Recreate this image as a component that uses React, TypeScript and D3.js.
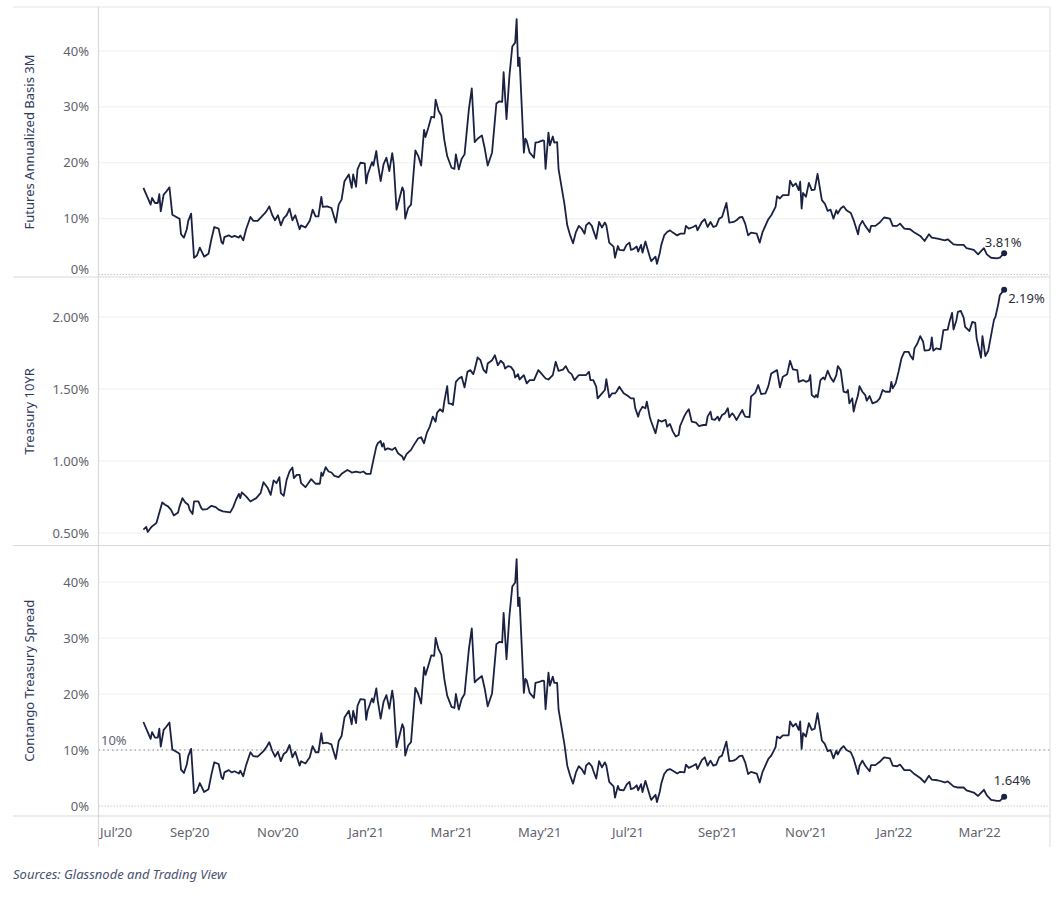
import React from "react";
import * as d3 from "d3";

// ---------- DATA ----------
const basis: [string, number][] = [
["2020-07-31",15.5],["2020-08-03",13.7],["2020-08-05",12.5],["2020-08-06",13.7],["2020-08-08",12.8],["2020-08-10",12.8],["2020-08-11",14.4],["2020-08-12",11.3],["2020-08-14",14.3],["2020-08-16",14.9],["2020-08-18",15.6],["2020-08-20",10.7],["2020-08-24",10.1],["2020-08-25",10.0],["2020-08-26",7.2],["2020-08-28",6.6],["2020-08-30",8.1],["2020-08-31",9.6],["2020-09-02",10.9],["2020-09-04",3.0],["2020-09-06",3.4],["2020-09-08",4.8],["2020-09-11",3.2],["2020-09-14",3.7],["2020-09-16",6.3],["2020-09-18",8.5],["2020-09-21",8.2],["2020-09-23",5.8],["2020-09-24",5.5],["2020-09-25",6.7],["2020-09-28",7.0],["2020-09-30",6.7],["2020-10-02",6.9],["2020-10-05",6.6],["2020-10-06",7.0],["2020-10-08",6.1],["2020-10-10",8.1],["2020-10-13",10.3],["2020-10-15",9.6],["2020-10-18",9.6],["2020-10-22",10.7],["2020-10-24",11.3],["2020-10-26",12.2],["2020-10-28",10.7],["2020-10-30",9.7],["2020-11-01",10.6],["2020-11-03",8.8],["2020-11-05",10.1],["2020-11-07",10.6],["2020-11-09",11.8],["2020-11-11",9.7],["2020-11-13",10.6],["2020-11-16",8.1],["2020-11-17",8.8],["2020-11-20",8.4],["2020-11-23",9.6],["2020-11-25",11.6],["2020-11-27",10.4],["2020-11-29",10.4],["2020-12-01",13.9],["2020-12-02",12.1],["2020-12-05",12.2],["2020-12-08",11.9],["2020-12-11",9.3],["2020-12-13",12.5],["2020-12-15",13.4],["2020-12-17",16.7],["2020-12-20",17.9],["2020-12-22",15.5],["2020-12-23",17.9],["2020-12-25",15.7],["2020-12-26",18.8],["2020-12-28",20.0],["2020-12-31",19.9],["2021-01-01",16.3],["2021-01-02",17.9],["2021-01-05",20.1],["2021-01-06",19.5],["2021-01-08",22.1],["2021-01-09",19.9],["2021-01-11",16.7],["2021-01-13",19.7],["2021-01-15",20.9],["2021-01-17",18.5],["2021-01-19",21.7],["2021-01-20",19.9],["2021-01-22",11.6],["2021-01-26",15.6],["2021-01-27",14.9],["2021-01-28",10.0],["2021-01-30",11.9],["2021-02-01",12.5],["2021-02-04",22.2],["2021-02-06",21.2],["2021-02-08",19.5],["2021-02-10",25.9],["2021-02-11",24.6],["2021-02-13",26.3],["2021-02-15",28.2],["2021-02-17",28.1],["2021-02-18",31.3],["2021-02-20",29.3],["2021-02-22",28.4],["2021-02-24",24.1],["2021-02-26",21.2],["2021-03-01",19.1],["2021-03-03",18.9],["2021-03-04",21.5],["2021-03-06",18.8],["2021-03-08",20.7],["2021-03-10",21.5],["2021-03-13",29.6],["2021-03-15",33.3],["2021-03-17",23.7],["2021-03-19",24.3],["2021-03-22",24.9],["2021-03-24",22.5],["2021-03-26",19.5],["2021-03-29",21.8],["2021-04-01",30.6],["2021-04-03",31.0],["2021-04-05",30.9],["2021-04-06",36.2],["2021-04-08",27.8],["2021-04-10",35.5],["2021-04-12",40.8],["2021-04-14",41.5],["2021-04-15",45.7],["2021-04-16",37.3],["2021-04-17",38.8],["2021-04-20",21.8],["2021-04-21",24.3],["2021-04-22",23.9],["2021-04-24",21.8],["2021-04-27",20.9],["2021-04-28",23.6],["2021-04-30",23.7],["2021-05-03",24.0],["2021-05-04",23.9],["2021-05-05",18.9],["2021-05-07",25.4],["2021-05-08",23.1],["2021-05-10",24.7],["2021-05-11",23.6],["2021-05-13",23.7],["2021-05-14",18.8],["2021-05-18",12.7],["2021-05-20",8.8],["2021-05-22",7.0],["2021-05-24",5.6],["2021-05-26",7.6],["2021-05-28",8.7],["2021-05-30",8.2],["2021-06-01",7.3],["2021-06-02",8.8],["2021-06-04",9.3],["2021-06-06",8.7],["2021-06-07",7.9],["2021-06-09",6.4],["2021-06-11",9.4],["2021-06-13",8.4],["2021-06-15",9.3],["2021-06-16",8.8],["2021-06-18",5.7],["2021-06-21",5.0],["2021-06-22",3.0],["2021-06-24",5.1],["2021-06-25",4.4],["2021-06-28",4.3],["2021-06-30",5.3],["2021-07-02",5.7],["2021-07-03",4.4],["2021-07-05",4.6],["2021-07-07",5.0],["2021-07-08",4.1],["2021-07-10",5.3],["2021-07-11",3.9],["2021-07-13",5.9],["2021-07-16",3.2],["2021-07-17",2.4],["2021-07-20",3.2],["2021-07-21",1.9],["2021-07-23",3.9],["2021-07-24",5.3],["2021-07-26",7.0],["2021-07-28",7.6],["2021-07-30",7.9],["2021-08-01",7.5],["2021-08-04",7.0],["2021-08-06",7.3],["2021-08-09",7.3],["2021-08-10",8.7],["2021-08-12",8.2],["2021-08-15",8.5],["2021-08-17",8.8],["2021-08-18",7.9],["2021-08-21",9.4],["2021-08-23",9.9],["2021-08-25",8.5],["2021-08-27",9.4],["2021-08-29",8.5],["2021-08-31",8.7],["2021-09-02",10.0],["2021-09-04",10.3],["2021-09-07",12.8],["2021-09-09",9.3],["2021-09-12",9.4],["2021-09-14",9.7],["2021-09-16",10.2],["2021-09-18",10.3],["2021-09-20",9.1],["2021-09-22",7.0],["2021-09-24",7.5],["2021-09-28",7.3],["2021-09-30",5.7],["2021-10-02",7.6],["2021-10-06",9.9],["2021-10-08",10.6],["2021-10-11",12.1],["2021-10-12",14.0],["2021-10-14",13.6],["2021-10-16",14.2],["2021-10-20",14.2],["2021-10-21",16.8],["2021-10-23",15.8],["2021-10-25",16.3],["2021-10-27",15.1],["2021-10-28",16.6],["2021-10-29",11.8],["2021-10-30",14.6],["2021-11-01",13.9],["2021-11-03",16.4],["2021-11-05",15.1],["2021-11-07",15.2],["2021-11-09",18.0],["2021-11-12",13.3],["2021-11-14",12.7],["2021-11-16",11.4],["2021-11-18",11.6],["2021-11-20",10.0],["2021-11-22",11.5],["2021-11-23",10.9],["2021-11-25",11.8],["2021-11-27",12.2],["2021-11-29",11.5],["2021-12-02",11.0],["2021-12-04",9.7],["2021-12-07",7.2],["2021-12-08",8.7],["2021-12-10",9.6],["2021-12-12",8.7],["2021-12-15",7.6],["2021-12-16",8.7],["2021-12-19",8.7],["2021-12-22",9.3],["2021-12-25",10.2],["2021-12-29",10.0],["2021-12-31",8.7],["2022-01-03",8.7],["2022-01-05",9.1],["2022-01-08",8.2],["2022-01-12",8.1],["2022-01-15",7.5],["2022-01-19",6.9],["2022-01-22",6.0],["2022-01-25",7.2],["2022-01-27",6.6],["2022-01-31",6.4],["2022-02-05",6.1],["2022-02-07",6.3],["2022-02-11",5.4],["2022-02-14",5.3],["2022-02-18",5.3],["2022-02-20",4.7],["2022-02-25",4.4],["2022-02-28",3.6],["2022-03-04",4.7],["2022-03-06",3.6],["2022-03-09",3.0],["2022-03-13",2.9],["2022-03-15",3.0],["2022-03-18",3.81]
];

const treasury: [string, number][] = [
["2020-07-31",0.523],["2020-08-02",0.542],["2020-08-03",0.507],["2020-08-05",0.535],["2020-08-06",0.546],["2020-08-09",0.569],["2020-08-13",0.712],["2020-08-15",0.696],["2020-08-17",0.685],["2020-08-19",0.662],["2020-08-21",0.622],["2020-08-24",0.643],["2020-08-25",0.685],["2020-08-27",0.742],["2020-08-29",0.712],["2020-08-31",0.696],["2020-09-01",0.662],["2020-09-03",0.632],["2020-09-04",0.719],["2020-09-07",0.719],["2020-09-09",0.673],["2020-09-10",0.662],["2020-09-13",0.666],["2020-09-16",0.689],["2020-09-19",0.680],["2020-09-21",0.662],["2020-09-24",0.650],["2020-09-29",0.643],["2020-10-01",0.678],["2020-10-03",0.731],["2020-10-05",0.772],["2020-10-06",0.742],["2020-10-07",0.782],["2020-10-10",0.754],["2020-10-13",0.719],["2020-10-17",0.742],["2020-10-20",0.777],["2020-10-22",0.853],["2020-10-25",0.812],["2020-10-27",0.765],["2020-10-29",0.865],["2020-10-31",0.846],["2020-11-02",0.888],["2020-11-03",0.777],["2020-11-05",0.758],["2020-11-07",0.869],["2020-11-09",0.927],["2020-11-11",0.955],["2020-11-12",0.881],["2020-11-14",0.904],["2020-11-16",0.904],["2020-11-17",0.846],["2020-11-20",0.818],["2020-11-22",0.846],["2020-11-24",0.874],["2020-11-27",0.842],["2020-11-30",0.842],["2020-12-01",0.920],["2020-12-02",0.897],["2020-12-04",0.957],["2020-12-06",0.927],["2020-12-08",0.920],["2020-12-10",0.897],["2020-12-13",0.888],["2020-12-15",0.911],["2020-12-19",0.938],["2020-12-21",0.927],["2020-12-22",0.920],["2020-12-25",0.927],["2020-12-28",0.920],["2020-12-30",0.927],["2021-01-01",0.911],["2021-01-04",0.911],["2021-01-06",1.008],["2021-01-08",1.100],["2021-01-09",1.123],["2021-01-11",1.139],["2021-01-12",1.100],["2021-01-13",1.123],["2021-01-14",1.077],["2021-01-16",1.088],["2021-01-19",1.077],["2021-01-21",1.093],["2021-01-23",1.054],["2021-01-26",1.031],["2021-01-27",1.008],["2021-01-29",1.049],["2021-02-01",1.077],["2021-02-03",1.112],["2021-02-06",1.158],["2021-02-08",1.165],["2021-02-10",1.123],["2021-02-12",1.197],["2021-02-14",1.239],["2021-02-16",1.308],["2021-02-18",1.273],["2021-02-19",1.335],["2021-02-21",1.359],["2021-02-23",1.342],["2021-02-24",1.412],["2021-02-26",1.520],["2021-02-27",1.400],["2021-03-01",1.396],["2021-03-02",1.389],["2021-03-04",1.550],["2021-03-06",1.573],["2021-03-08",1.585],["2021-03-10",1.511],["2021-03-12",1.619],["2021-03-14",1.631],["2021-03-16",1.603],["2021-03-17",1.635],["2021-03-19",1.719],["2021-03-21",1.700],["2021-03-23",1.635],["2021-03-25",1.612],["2021-03-26",1.677],["2021-03-29",1.700],["2021-03-31",1.735],["2021-04-02",1.665],["2021-04-04",1.696],["2021-04-06",1.677],["2021-04-07",1.642],["2021-04-09",1.659],["2021-04-11",1.654],["2021-04-13",1.626],["2021-04-14",1.580],["2021-04-16",1.603],["2021-04-17",1.566],["2021-04-20",1.596],["2021-04-22",1.539],["2021-04-24",1.562],["2021-04-27",1.562],["2021-04-30",1.631],["2021-05-02",1.608],["2021-05-05",1.573],["2021-05-07",1.566],["2021-05-10",1.596],["2021-05-12",1.689],["2021-05-14",1.626],["2021-05-17",1.635],["2021-05-19",1.659],["2021-05-21",1.619],["2021-05-23",1.603],["2021-05-25",1.562],["2021-05-28",1.597],["2021-05-31",1.597],["2021-06-02",1.597],["2021-06-04",1.620],["2021-06-05",1.562],["2021-06-07",1.562],["2021-06-09",1.516],["2021-06-10",1.435],["2021-06-13",1.470],["2021-06-15",1.493],["2021-06-16",1.569],["2021-06-18",1.442],["2021-06-20",1.470],["2021-06-22",1.470],["2021-06-23",1.481],["2021-06-25",1.516],["2021-06-28",1.470],["2021-07-01",1.451],["2021-07-03",1.435],["2021-07-05",1.435],["2021-07-06",1.366],["2021-07-08",1.308],["2021-07-09",1.343],["2021-07-11",1.377],["2021-07-13",1.366],["2021-07-14",1.412],["2021-07-16",1.308],["2021-07-17",1.274],["2021-07-20",1.193],["2021-07-22",1.285],["2021-07-24",1.274],["2021-07-27",1.285],["2021-07-28",1.239],["2021-07-30",1.257],["2021-08-01",1.204],["2021-08-03",1.170],["2021-08-05",1.181],["2021-08-06",1.243],["2021-08-09",1.313],["2021-08-10",1.331],["2021-08-12",1.359],["2021-08-14",1.274],["2021-08-17",1.267],["2021-08-19",1.243],["2021-08-22",1.250],["2021-08-24",1.250],["2021-08-25",1.308],["2021-08-27",1.343],["2021-08-28",1.290],["2021-08-30",1.285],["2021-09-01",1.308],["2021-09-02",1.281],["2021-09-04",1.320],["2021-09-06",1.331],["2021-09-08",1.366],["2021-09-09",1.304],["2021-09-11",1.331],["2021-09-12",1.320],["2021-09-14",1.285],["2021-09-16",1.320],["2021-09-18",1.354],["2021-09-19",1.327],["2021-09-20",1.308],["2021-09-23",1.304],["2021-09-24",1.447],["2021-09-27",1.475],["2021-09-29",1.528],["2021-10-01",1.465],["2021-10-04",1.470],["2021-10-06",1.520],["2021-10-08",1.608],["2021-10-12",1.631],["2021-10-14",1.511],["2021-10-16",1.585],["2021-10-19",1.603],["2021-10-21",1.696],["2021-10-23",1.636],["2021-10-26",1.631],["2021-10-27",1.550],["2021-10-30",1.562],["2021-11-01",1.550],["2021-11-03",1.558],["2021-11-04",1.597],["2021-11-05",1.458],["2021-11-07",1.442],["2021-11-08",1.458],["2021-11-09",1.442],["2021-11-11",1.562],["2021-11-13",1.580],["2021-11-14",1.566],["2021-11-16",1.627],["2021-11-18",1.580],["2021-11-20",1.550],["2021-11-22",1.597],["2021-11-23",1.659],["2021-11-25",1.631],["2021-11-27",1.481],["2021-11-29",1.475],["2021-11-30",1.493],["2021-12-01",1.400],["2021-12-03",1.435],["2021-12-04",1.343],["2021-12-05",1.389],["2021-12-07",1.458],["2021-12-08",1.520],["2021-12-10",1.481],["2021-12-12",1.458],["2021-12-13",1.419],["2021-12-15",1.451],["2021-12-17",1.400],["2021-12-20",1.412],["2021-12-22",1.435],["2021-12-24",1.493],["2021-12-26",1.481],["2021-12-29",1.481],["2021-12-30",1.550],["2021-12-31",1.504],["2022-01-02",1.539],["2022-01-04",1.620],["2022-01-06",1.712],["2022-01-08",1.758],["2022-01-11",1.758],["2022-01-12",1.735],["2022-01-14",1.705],["2022-01-15",1.782],["2022-01-17",1.816],["2022-01-19",1.867],["2022-01-21",1.828],["2022-01-22",1.766],["2022-01-25",1.770],["2022-01-26",1.782],["2022-01-27",1.858],["2022-01-28",1.766],["2022-01-30",1.782],["2022-02-02",1.775],["2022-02-04",1.909],["2022-02-07",1.913],["2022-02-08",1.959],["2022-02-10",2.029],["2022-02-11",1.913],["2022-02-13",1.978],["2022-02-14",2.035],["2022-02-16",2.042],["2022-02-18",1.996],["2022-02-19",1.931],["2022-02-22",1.903],["2022-02-24",1.966],["2022-02-26",1.959],["2022-02-27",1.850],["2022-03-02",1.717],["2022-03-03",1.867],["2022-03-05",1.729],["2022-03-07",1.766],["2022-03-09",1.874],["2022-03-11",1.982],["2022-03-12",2.001],["2022-03-14",2.093],["2022-03-15",2.151],["2022-03-18",2.19]
];

const spread: [string, number][] = [
["2020-07-31",15.0],["2020-08-03",13.2],["2020-08-05",12.0],["2020-08-06",13.2],["2020-08-08",12.2],["2020-08-10",12.2],["2020-08-11",13.8],["2020-08-12",10.6],["2020-08-14",13.6],["2020-08-16",14.2],["2020-08-18",14.9],["2020-08-20",10.1],["2020-08-24",9.5],["2020-08-25",9.3],["2020-08-26",6.5],["2020-08-28",5.9],["2020-08-30",7.4],["2020-08-31",8.9],["2020-09-02",10.2],["2020-09-04",2.3],["2020-09-06",2.7],["2020-09-08",4.1],["2020-09-11",2.5],["2020-09-14",3.0],["2020-09-16",5.6],["2020-09-18",7.8],["2020-09-21",7.5],["2020-09-23",5.1],["2020-09-24",4.8],["2020-09-25",6.0],["2020-09-28",6.4],["2020-09-30",6.0],["2020-10-02",6.2],["2020-10-05",5.8],["2020-10-06",6.3],["2020-10-08",5.3],["2020-10-10",7.3],["2020-10-13",9.6],["2020-10-15",8.9],["2020-10-18",8.8],["2020-10-22",9.8],["2020-10-24",10.5],["2020-10-26",11.4],["2020-10-28",9.9],["2020-10-30",8.8],["2020-11-01",9.7],["2020-11-03",8.0],["2020-11-05",9.3],["2020-11-07",9.7],["2020-11-09",10.9],["2020-11-11",8.7],["2020-11-13",9.7],["2020-11-16",7.2],["2020-11-17",8.0],["2020-11-20",7.6],["2020-11-23",8.7],["2020-11-25",10.7],["2020-11-27",9.6],["2020-11-29",9.6],["2020-12-01",13.0],["2020-12-02",11.2],["2020-12-05",11.3],["2020-12-08",11.0],["2020-12-11",8.4],["2020-12-13",11.6],["2020-12-15",12.5],["2020-12-17",15.8],["2020-12-20",17.0],["2020-12-22",14.6],["2020-12-23",17.0],["2020-12-25",14.8],["2020-12-26",17.9],["2020-12-28",19.1],["2020-12-31",19.0],["2021-01-01",15.4],["2021-01-02",17.0],["2021-01-05",19.2],["2021-01-06",18.5],["2021-01-08",21.0],["2021-01-09",18.8],["2021-01-11",15.6],["2021-01-13",18.6],["2021-01-15",19.8],["2021-01-17",17.4],["2021-01-19",20.6],["2021-01-20",18.8],["2021-01-22",10.5],["2021-01-26",14.6],["2021-01-27",13.9],["2021-01-28",9.0],["2021-01-30",10.8],["2021-02-01",11.4],["2021-02-04",21.1],["2021-02-06",20.0],["2021-02-08",18.3],["2021-02-10",24.8],["2021-02-11",23.4],["2021-02-13",25.1],["2021-02-15",26.9],["2021-02-17",26.8],["2021-02-18",30.0],["2021-02-20",28.0],["2021-02-22",27.0],["2021-02-24",22.7],["2021-02-26",19.7],["2021-03-01",17.7],["2021-03-03",17.5],["2021-03-04",20.0],["2021-03-06",17.2],["2021-03-08",19.1],["2021-03-10",20.0],["2021-03-13",28.0],["2021-03-15",31.7],["2021-03-17",22.1],["2021-03-19",22.6],["2021-03-22",23.2],["2021-03-24",20.9],["2021-03-26",17.8],["2021-03-29",20.1],["2021-04-01",28.9],["2021-04-03",29.3],["2021-04-05",29.2],["2021-04-06",34.5],["2021-04-08",26.2],["2021-04-10",33.9],["2021-04-12",39.2],["2021-04-14",39.9],["2021-04-15",44.1],["2021-04-16",35.7],["2021-04-17",37.2],["2021-04-20",20.2],["2021-04-21",22.7],["2021-04-22",22.4],["2021-04-24",20.2],["2021-04-27",19.3],["2021-04-28",22.0],["2021-04-30",22.1],["2021-05-03",22.4],["2021-05-04",22.3],["2021-05-05",17.3],["2021-05-07",23.8],["2021-05-08",21.5],["2021-05-10",23.1],["2021-05-11",22.0],["2021-05-13",22.0],["2021-05-14",17.2],["2021-05-18",11.1],["2021-05-20",7.2],["2021-05-22",5.4],["2021-05-24",4.0],["2021-05-26",6.0],["2021-05-28",7.1],["2021-05-30",6.6],["2021-06-01",5.7],["2021-06-02",7.2],["2021-06-04",7.7],["2021-06-06",7.1],["2021-06-07",6.3],["2021-06-09",4.9],["2021-06-11",8.0],["2021-06-13",6.9],["2021-06-15",7.8],["2021-06-16",7.2],["2021-06-18",4.3],["2021-06-21",3.5],["2021-06-22",1.5],["2021-06-24",3.6],["2021-06-25",2.9],["2021-06-28",2.8],["2021-06-30",3.8],["2021-07-02",4.3],["2021-07-03",3.0],["2021-07-05",3.2],["2021-07-07",3.7],["2021-07-08",2.8],["2021-07-10",3.9],["2021-07-11",2.5],["2021-07-13",4.5],["2021-07-16",1.9],["2021-07-17",1.1],["2021-07-20",2.0],["2021-07-21",0.7],["2021-07-23",2.6],["2021-07-24",4.0],["2021-07-26",5.7],["2021-07-28",6.4],["2021-07-30",6.6],["2021-08-01",6.3],["2021-08-04",5.8],["2021-08-06",6.1],["2021-08-09",6.0],["2021-08-10",7.4],["2021-08-12",6.8],["2021-08-15",7.2],["2021-08-17",7.5],["2021-08-18",6.6],["2021-08-21",8.2],["2021-08-23",8.7],["2021-08-25",7.2],["2021-08-27",8.1],["2021-08-29",7.2],["2021-08-31",7.4],["2021-09-02",8.7],["2021-09-04",9.0],["2021-09-07",11.5],["2021-09-09",8.0],["2021-09-12",8.1],["2021-09-14",8.4],["2021-09-16",8.9],["2021-09-18",9.0],["2021-09-20",7.8],["2021-09-22",5.7],["2021-09-24",6.1],["2021-09-28",5.8],["2021-09-30",4.2],["2021-10-02",6.1],["2021-10-06",8.4],["2021-10-08",9.0],["2021-10-11",10.5],["2021-10-12",12.4],["2021-10-14",12.1],["2021-10-16",12.6],["2021-10-20",12.6],["2021-10-21",15.1],["2021-10-23",14.2],["2021-10-25",14.7],["2021-10-27",13.6],["2021-10-28",15.1],["2021-10-29",10.2],["2021-10-30",13.0],["2021-11-01",12.4],["2021-11-03",14.8],["2021-11-05",13.6],["2021-11-07",13.8],["2021-11-09",16.6],["2021-11-12",11.7],["2021-11-14",11.1],["2021-11-16",9.8],["2021-11-18",10.0],["2021-11-20",8.5],["2021-11-22",9.9],["2021-11-23",9.2],["2021-11-25",10.2],["2021-11-27",10.7],["2021-11-29",10.0],["2021-12-02",9.6],["2021-12-04",8.4],["2021-12-07",5.7],["2021-12-08",7.2],["2021-12-10",8.1],["2021-12-12",7.2],["2021-12-15",6.2],["2021-12-16",7.3],["2021-12-19",7.3],["2021-12-22",7.9],["2021-12-25",8.7],["2021-12-29",8.5],["2021-12-31",7.2],["2022-01-03",7.1],["2022-01-05",7.4],["2022-01-08",6.4],["2022-01-12",6.4],["2022-01-15",5.7],["2022-01-19",5.0],["2022-01-22",4.2],["2022-01-25",5.4],["2022-01-27",4.7],["2022-01-31",4.6],["2022-02-05",4.2],["2022-02-07",4.4],["2022-02-11",3.5],["2022-02-14",3.3],["2022-02-18",3.3],["2022-02-20",2.8],["2022-02-25",2.4],["2022-02-28",1.8],["2022-03-04",2.9],["2022-03-06",1.9],["2022-03-09",1.1],["2022-03-13",0.9],["2022-03-15",0.9],["2022-03-18",1.64]
];

const basisTicks = [0, 10, 20, 30, 40];
const treasuryTicks = [0.5, 1.0, 1.5, 2.0];
const spreadTicks = [0, 10, 20, 30, 40];
const spreadReference = 10;
const xTickDates = ["2020-07-01","2020-09-01","2020-11-01","2021-01-01","2021-03-01","2021-05-01","2021-07-01","2021-09-01","2021-11-01","2022-01-01","2022-03-01"];
const xTickLabels = ["Jul\u201920","Sep\u201920","Nov\u201920","Jan\u201921","Mar\u201921","May\u201921","Jul\u201921","Sep\u201921","Nov\u201921","Jan\u201922","Mar\u201922"];
const titles = ["Futures Annualized Basis 3M", "Treasury 10YR", "Contango Treasury Spread"];
const endLabels = ["3.81%", "2.19%", "1.64%"];
const sourceText = "Sources: Glassnode and Trading View";

// ---------- LAYOUT ----------
const parse = d3.timeParse("%Y-%m-%d");
const FONT = "'Noto Sans', 'Open Sans', sans-serif";
const FS = 13;
const LEFT = 13, AXIS_X = 98.5, RIGHT = 1050;
const LINE = "#1b2142";
const TICK = "#5f636e";
const TITLE = "#2f3a5e";

const x = d3.scaleTime()
  .domain([parse("2020-07-01")!, parse("2022-04-18")!])
  .range([100, 1049]);

type Panel = {
  data: [string, number][];
  top: number; bottom: number;
  y: d3.ScaleLinear<number, number>;
  ticks: number[];
  fmt: (v: number) => string;
  title: string;
  end: string;
  endDx: number; endDy: number; endAnchor: string;
  zeroDotted: boolean;
};

const panels: Panel[] = [
  { data: basis, top: 7, bottom: 277, y: d3.scaleLinear().domain([0, 40]).range([274.5, 51]),
    ticks: basisTicks, fmt: v => `${v}%`, title: titles[0], end: endLabels[0],
    endDx: -1, endDy: -6, endAnchor: "middle", zeroDotted: true },
  { data: treasury, top: 277, bottom: 545.5, y: d3.scaleLinear().domain([0.5, 2.0]).range([533, 317]),
    ticks: treasuryTicks, fmt: v => `${v.toFixed(2)}%`, title: titles[1], end: endLabels[1],
    endDx: 4, endDy: 13, endAnchor: "start", zeroDotted: false },
  { data: spread, top: 545.5, bottom: 816, y: d3.scaleLinear().domain([0, 40]).range([806, 582]),
    ticks: spreadTicks, fmt: v => `${v}%`, title: titles[2], end: endLabels[2],
    endDx: 8, endDy: -12, endAnchor: "middle", zeroDotted: true },
];

function PanelView({ p, idx }: { p: Panel; idx: number }) {
  const line = d3.line<[string, number]>()
    .x(d => x(parse(d[0])!))
    .y(d => p.y(d[1]));
  const last = p.data[p.data.length - 1];
  const lx = x(parse(last[0])!);
  const ly = p.y(last[1]);
  const midY = (p.top + p.bottom) / 2;
  return (
    <g>
      {p.ticks.map(t => {
        const yy = p.y(t);
        const isZero = t === 0 && p.zeroDotted;
        return (
          <g key={t}>
            {isZero ? (
              <line x1={AXIS_X} x2={RIGHT} y1={yy} y2={yy} stroke="#c8c8c8" strokeWidth={1} strokeDasharray="1.5,1.5" />
            ) : (
              <line x1={AXIS_X} x2={RIGHT} y1={yy} y2={yy} stroke="#efefef" strokeWidth={1} />
            )}
            <text x={89} y={Math.min(yy, p.bottom - 8)} dy="0.35em" textAnchor="end"
              fontFamily={FONT} fontSize={FS} fill={TICK}>{p.fmt(t)}</text>
          </g>
        );
      })}
      {idx === 2 && (
        <g>
          <line x1={AXIS_X} x2={RIGHT} y1={p.y(spreadReference)} y2={p.y(spreadReference)}
            stroke="#8a8a8a" strokeWidth={1.2} strokeDasharray="1.5,3" />
          <text x={101} y={p.y(spreadReference) - 5} fontFamily={FONT} fontSize={FS} fill={TICK}>{`${spreadReference}%`}</text>
        </g>
      )}
      <text transform={`translate(34,${midY}) rotate(-90)`} textAnchor="middle"
        fontFamily={FONT} fontSize={FS} fill={TITLE}>{p.title}</text>
      <path d={line(p.data) || ""} fill="none" stroke={LINE} strokeWidth={1.8} strokeLinejoin="round" />
      <circle cx={lx} cy={ly} r={3} fill={LINE} />
      <text x={lx + p.endDx} y={ly + p.endDy} textAnchor={p.endAnchor as any}
        fontFamily={FONT} fontSize={FS} fill="#2a2e3a">{p.end}</text>
    </g>
  );
}

export default function App() {
  return (
    <svg width={1064} height={900} style={{ position: "absolute", left: 0, top: 0, background: "#fff" }}>
      <rect x={0} y={0} width={1064} height={900} fill="#fff" />
      {panels.map((p, i) => <PanelView key={i} p={p} idx={i} />)}
      <line x1={LEFT} x2={RIGHT} y1={7} y2={7} stroke="#e3e3e3" strokeWidth={1.2} />
      <line x1={LEFT} x2={RIGHT} y1={277} y2={277} stroke="#d9d9d9" strokeWidth={1.2} />
      <line x1={LEFT} x2={RIGHT} y1={545.5} y2={545.5} stroke="#d9d9d9" strokeWidth={1.2} />
      <line x1={LEFT} x2={RIGHT} y1={816} y2={816} stroke="#d9d9d9" strokeWidth={1.2} />
      <line x1={AXIS_X} x2={AXIS_X} y1={7} y2={847} stroke="#d9d9d9" strokeWidth={1.2} />
      <line x1={RIGHT} x2={RIGHT} y1={7} y2={847} stroke="#e3e3e3" strokeWidth={1.2} />
      {xTickDates.map((d, i) => {
        const xx = x(parse(d)!);
        const first = i === 0;
        return (
          <text key={d} x={xx} y={837} textAnchor={first ? "start" : "middle"}
            fontFamily={FONT} fontSize={FS} fill={TICK}>{xTickLabels[i]}</text>
        );
      })}
      <text x={13} y={879} fontFamily={FONT} fontSize={FS} fontStyle="italic" fill="#4a5270">{sourceText}</text>
    </svg>
  );
}
